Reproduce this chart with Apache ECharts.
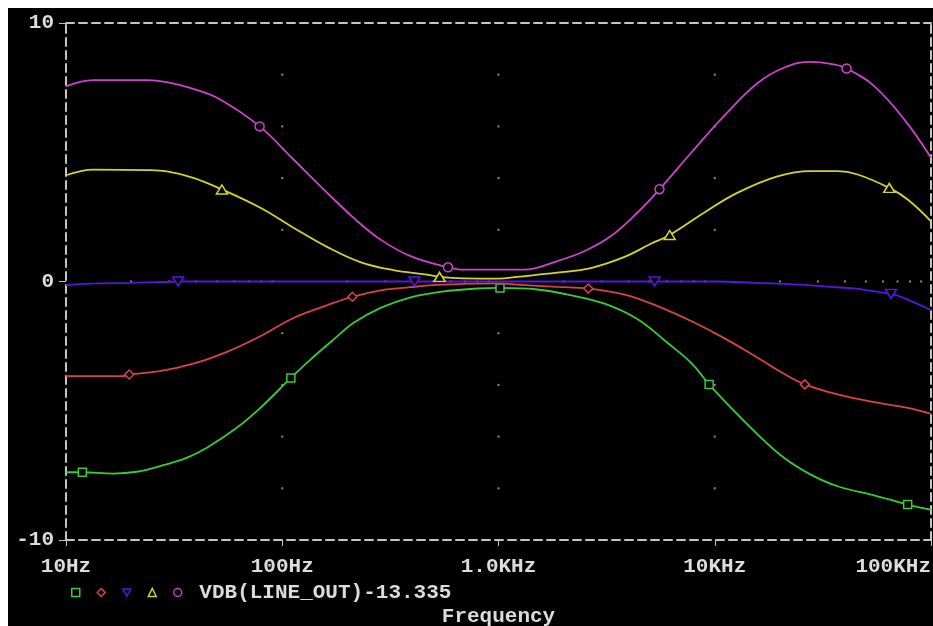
<!DOCTYPE html>
<html>
<head>
<meta charset="utf-8">
<script src="https://cdn.jsdelivr.net/npm/echarts@6/dist/echarts.min.js"></script>
<style>
  html, body { margin: 0; padding: 0; background: #ffffff; width: 933px; height: 626px; overflow: hidden; }
  #c { position: absolute; left: 8px; top: 8px; width: 925px; height: 618px; }
</style>
</head>
<body>
<div id="c"></div>
<script>
// ---------- data ----------
const xTickLabels = { 10: '10Hz', 100: '100Hz', 1000: '1.0KHz', 10000: '10KHz', 100000: '100KHz' };
const yTickLabels = { '-10': '-10', '0': '0', '10': '10' };
const legendText = 'VDB(LINE_OUT)-13.335';
const xTitle = 'Frequency';

const greenF = [10, 11.9, 16.6, 21.2, 27.2, 36.1, 44.8, 61.6, 79.2, 109.6, 135, 173, 214, 285, 392, 538, 798, 1016, 1510, 2150, 3070, 4380, 6040, 7780, 9420, 11900, 15800, 20900, 27800, 37000, 54600, 78000, 100000];
const greenV = [-7.38, -7.38, -7.43, -7.36, -7.14, -6.82, -6.43, -5.66, -4.89, -3.73, -3.02, -2.24, -1.60, -1.02, -0.61, -0.40, -0.27, -0.25, -0.31, -0.53, -0.85, -1.45, -2.37, -3.15, -3.98, -4.89, -5.92, -6.82, -7.47, -7.92, -8.27, -8.63, -8.83];
const greenMarks = [1, 9, 17, 24, 31];

const redF = [10, 18.4, 19.6, 27.2, 38.8, 55.5, 79.2, 112.7, 161, 211, 285, 392, 500, 766, 1000, 1221, 1870, 2600, 3800, 5430, 7780, 11000, 15800, 20900, 26100, 37000, 54600, 78000, 100000];
const redV = [-3.66, -3.66, -3.60, -3.47, -3.18, -2.72, -2.12, -1.41, -0.92, -0.59, -0.34, -0.22, -0.14, -0.08, -0.07, -0.12, -0.21, -0.27, -0.50, -0.95, -1.53, -2.18, -2.95, -3.57, -3.98, -4.37, -4.67, -4.89, -5.12];
const redMarks = [2, 9, 17, 24];

const blueF = [10, 13, 20, 28, 33, 100, 409, 1000, 5270, 10000, 15200, 26900, 34400, 44200, 54600, 65300, 72000, 78000, 90000, 100000];
const blueV = [-0.14, -0.08, -0.05, -0.02, 0.0, 0.0, 0.0, 0.0, 0.0, 0.0, -0.05, -0.14, -0.21, -0.27, -0.38, -0.48, -0.58, -0.70, -0.93, -1.11];
const blueMarks = [4, 6, 8, 15];

const yellowF = [10, 13.4, 23.6, 29.3, 38.8, 52.6, 79.2, 112.7, 161, 229.5, 326, 467, 534, 691, 1000, 1221, 1870, 2670, 3800, 5060, 6190, 8920, 12700, 19500, 27800, 37000, 45800, 64100, 78000, 100000];
const yellowV = [4.11, 4.33, 4.31, 4.26, 4.01, 3.56, 2.85, 2.08, 1.34, 0.75, 0.44, 0.27, 0.18, 0.12, 0.11, 0.18, 0.34, 0.52, 0.94, 1.46, 1.80, 2.66, 3.43, 4.07, 4.27, 4.27, 4.14, 3.62, 3.17, 2.33];
const yellowMarks = [5, 12, 20, 27];

const magentaF = [10, 13.4, 23.6, 29.3, 38.8, 51.6, 78.6, 112.7, 150, 214, 285, 392, 584, 690, 1000, 1310, 1870, 2490, 3300, 4380, 5550, 7780, 11000, 15800, 20900, 27800, 34400, 40700, 54600, 75200, 100000];
const magentaV = [7.55, 7.79, 7.79, 7.71, 7.45, 7.04, 6.00, 4.72, 3.69, 2.46, 1.62, 0.98, 0.55, 0.46, 0.46, 0.46, 0.79, 1.17, 1.75, 2.66, 3.57, 4.98, 6.39, 7.68, 8.27, 8.50, 8.42, 8.24, 7.56, 6.27, 4.79];
const magentaMarks = [6, 12, 20, 27];

// grid dot positions (PSpice dotted grid)
const dotDecades = [100, 1000, 10000];
const dotLevels = [-8, -6, -4, -2, 2, 4, 6, 8];
const minorMultipliers = [2, 3, 4, 5, 6, 7, 8, 9];
const minorDecades = [10, 100, 1000, 10000];

// ---------- styling ----------
const FONT = 'Liberation Mono';
const TXT = '#dcdcdc';
const GRIDC = '#c4c4c4';
const triDown = 'path://M0,0 L10,0 L5,9 Z';

const seriesDefs = [
  { name: 's1', f: greenF, v: greenV, m: greenMarks, color: '#38cc38', symbol: 'rect', size: 8 },
  { name: 's2', f: redF, v: redV, m: redMarks, color: '#d84444', symbol: 'diamond', size: 9 },
  { name: 's3', f: blueF, v: blueV, m: blueMarks, color: '#5a14e0', symbol: triDown, size: [11, 9] },
  { name: 's4', f: yellowF, v: yellowV, m: yellowMarks, color: '#d4d430', symbol: 'triangle', size: [11, 9] },
  { name: 's5', f: magentaF, v: magentaV, m: magentaMarks, color: '#cc44cc', symbol: 'circle', size: 9 }
];

const dots = [];
dotDecades.forEach(d => dotLevels.forEach(l => dots.push([d, l])));
minorDecades.forEach(d => minorMultipliers.forEach(m => dots.push([d * m, 0])));

const series = [{
  type: 'scatter', name: 'dots', data: dots, symbol: 'rect', symbolSize: 2,
  itemStyle: { color: '#b0b0b0' }, silent: true, z: 1, xAxisIndex: 0, yAxisIndex: 0
}];

seriesDefs.forEach((s, k) => {
  const data = s.f.map((x, i) => s.m.indexOf(i) >= 0
    ? { value: [x, s.v[i]], symbol: s.symbol, symbolSize: s.size }
    : { value: [x, s.v[i]], symbol: 'none' });
  series.push({
    type: 'line', name: s.name, data: data, smooth: 0.4,
    symbol: 'none', showSymbol: true,
    lineStyle: { color: s.color, width: 1.8 },
    itemStyle: { color: '#000000', borderColor: s.color, borderWidth: 1.5 },
    z: 3 + k, xAxisIndex: 0, yAxisIndex: 0
  });
});

const dashed = { color: GRIDC, width: 2, type: [8, 5] };

const option = {
  animation: false,
  backgroundColor: '#000000',
  grid: { left: 58, top: 15, right: 2, bottom: 86, containLabel: false, outerBoundsMode: 'none' },
  xAxis: [{
    type: 'log', logBase: 10, min: 10, max: 100000, position: 'bottom',
    axisLine: { show: true, onZero: false, lineStyle: dashed },
    axisTick: { show: true, length: 6, lineStyle: { color: GRIDC, width: 1 } },
    minorTick: { show: false },
    splitLine: { show: false },
    axisLabel: {
      margin: 16, color: TXT, fontFamily: FONT, fontWeight: 'bold', fontSize: 21,
      alignMaxLabel: 'right', alignMinLabel: 'center', hideOverlap: false,
      formatter: v => xTickLabels[Math.round(v)] || ''
    },
    name: xTitle, nameLocation: 'middle', nameGap: 66,
    nameTextStyle: { color: TXT, fontFamily: FONT, fontWeight: 'bold', fontSize: 21 }
  }, {
    type: 'log', logBase: 10, min: 10, max: 100000, position: 'top',
    axisLine: { show: true, onZero: false, lineStyle: dashed },
    axisTick: { show: false }, axisLabel: { show: false }, splitLine: { show: false }
  }],
  yAxis: [{
    type: 'value', min: -10, max: 10, interval: 10, position: 'left',
    axisLine: { show: true, onZero: false, lineStyle: dashed },
    axisTick: { show: true, length: 7, lineStyle: { color: GRIDC, width: 1 } },
    splitLine: { show: false },
    axisLabel: {
      margin: 12, color: TXT, fontFamily: FONT, fontWeight: 'bold', fontSize: 21,
      formatter: v => yTickLabels[String(v)] || ''
    }
  }, {
    type: 'value', min: -10, max: 10, interval: 10, position: 'right',
    axisLine: { show: true, onZero: false, lineStyle: dashed },
    axisTick: { show: false }, axisLabel: { show: false }, splitLine: { show: false }
  }],
  legend: {
    left: 63, top: 574, padding: 0, itemGap: 16, itemWidth: 8, itemHeight: 8,
    selectedMode: false,
    itemStyle: { color: '#000000', borderColor: 'inherit', borderWidth: 1.5 },
    textStyle: { color: TXT, fontFamily: FONT, fontWeight: 'bold', fontSize: 21 },
    formatter: name => name === 's5' ? ' ' + legendText : '',
    data: [
      { name: 's1', icon: 'rect' },
      { name: 's2', icon: 'diamond' },
      { name: 's3', icon: triDown, itemWidth: 10 },
      { name: 's4', icon: 'triangle' },
      { name: 's5', icon: 'circle' }
    ]
  },
  series: series
};

const chart = echarts.init(document.getElementById('c'), null, { renderer: 'canvas' });
chart.setOption(option);
</script>
</body>
</html>
